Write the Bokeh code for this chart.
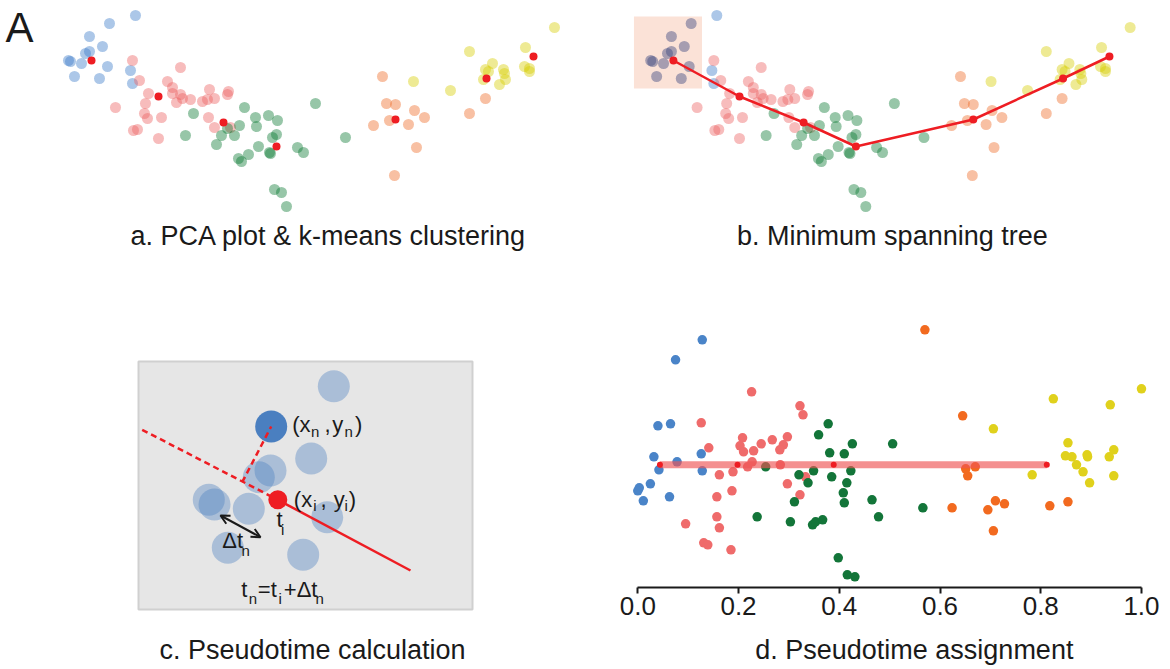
import numpy as np
from bokeh.plotting import figure
from bokeh.models import (Range1d, LinearAxis, FixedTicker,
                          PrintfTickFormatter, Label, Arrow, OpenHead, BoxAnnotation)
from bokeh.layouts import column, row
from bokeh.embed import file_html
from bokeh.resources import INLINE
from bokeh.core.properties import value

FONT = "Liberation Sans"
RED = "#ee1d23"
BASE_FIX = 0.37   # em offset compensation for alphabetic baseline rendering

# ---------------- Panels a & b: PCA coordinates (PC1, PC2) ----------------
blue_pc1 = [-1.65, -1.91, -2.11, -1.98, -2.11, -2.15, -2.32, -2.30, -2.19, -1.93, -1.70, -2.26, -2.01, -1.68]
blue_pc2 = [0.85, 0.77, 0.64, 0.54, 0.49, 0.47, 0.40, 0.39, 0.37, 0.34, 0.30, 0.24, 0.22, 0.17]
pink_pc1 = [-1.68, -1.20, -1.61, -1.33, -1.28, -1.52, -1.28, -1.20, -1.18, -1.24, -1.10, -0.91, -0.98, -0.93,
            -0.86, -0.72, -0.73, -1.55, -1.85, -1.56, -1.53, -1.39, -0.92, -0.86, -1.67, -1.63, -1.42, -0.70]
pink_pc2 = [0.40, 0.33, 0.20, 0.19, 0.13, 0.07, 0.07, 0.06, 0.02, -0.02, 0.01, 0.11, -0.01, 0.01,
            0.02, 0.09, 0.06, -0.03, -0.07, -0.13, -0.18, -0.17, -0.17, -0.27, -0.30, -0.29, -0.38, -0.27]
green_pc1 = [-1.07, -1.15, -0.84, -0.79, -0.56, -0.45, -0.32, -0.23, -0.44, -0.61, -0.73, -0.66, -0.24, -0.28,
             -0.42, -0.31, -0.30, -0.52, -0.62, -0.59, -0.03, 0.03, 0.15, 0.45, -0.26, -0.19, -0.14]
green_pc2 = [-0.13, -0.35, -0.44, -0.35, -0.07, -0.17, -0.15, -0.20, -0.26, -0.25, -0.28, -0.35, -0.34, -0.37,
             -0.46, -0.52, -0.53, -0.54, -0.58, -0.61, -0.47, -0.52, -0.03, -0.37, -0.89, -0.92, -1.06]
orange_pc1 = [0.82, 0.86, 0.95, 0.89, 0.73, 0.94, 1.14, 1.24, 1.08, 1.16, 1.85, 1.69]
orange_pc2 = [0.24, -0.03, -0.04, -0.20, -0.25, -0.75, -0.10, -0.17, -0.24, -0.47, 0.02, -0.13]
yellow_pc1 = [2.54, 2.25, 1.69, 1.92, 1.85, 1.88, 2.03, 2.04, 2.05, 1.99, 1.83, 2.24, 2.29, 2.29, 1.13, 1.50]
yellow_pc2 = [0.73, 0.53, 0.49, 0.37, 0.31, 0.29, 0.31, 0.27, 0.21, 0.16, 0.21, 0.34, 0.32, 0.29, 0.19, 0.10]
centroid_pc1 = [-2.09, -1.42, -0.77, -0.24, 0.95, 1.86, 2.33]
centroid_pc2 = [0.40, 0.04, -0.22, -0.46, -0.19, 0.22, 0.44]
root_box = dict(left=-2.49, right=-1.80, bottom=0.12, top=0.84)   # root cluster highlight

soft_colors = ["#397ac7", "#ed5f5f", "#067730", "#ef6a23", "#d7cc00"]
solid_colors = ["#4a84c8", "#ef6b6b", "#137539", "#f26a1f", "#e0d11c"]
pca_sets = [(blue_pc1, blue_pc2), (pink_pc1, pink_pc2), (green_pc1, green_pc2),
            (orange_pc1, orange_pc2), (yellow_pc1, yellow_pc2)]

# ---------------- Panel d: pseudotime and jitter ----------------
blue_t = [0.128, 0.075, 0.040, 0.065, 0.032, 0.078, 0.042, 0.126, 0.128, 0.025, 0.003, 0.000, 0.011, 0.063]
blue_j = [1.25, 1.05, 0.39, 0.41, 0.08, 0.03, -0.05, 0.11, -0.06, -0.19, -0.23, -0.26, -0.36, -0.32]
pink_t = [0.226, 0.126, 0.141, 0.208, 0.203, 0.210, 0.230, 0.245, 0.267, 0.297, 0.289, 0.282, 0.227, 0.218,
          0.283, 0.162, 0.189, 0.297, 0.187, 0.157, 0.095, 0.157, 0.162, 0.131, 0.139, 0.185, 0.322, 0.328,
          0.322, 0.333]
pink_j = [0.73, 0.42, 0.17, 0.27, 0.19, 0.13, 0.14, 0.21, 0.25, 0.28, 0.20, 0.15, 0.03, -0.02,
          0.00, -0.10, -0.07, -0.19, -0.26, -0.32, -0.59, -0.52, -0.63, -0.78, -0.80, -0.85, 0.59, 0.50,
          -0.30, -0.12]
green_t = [0.254, 0.237, 0.303, 0.311, 0.320, 0.378, 0.359, 0.426, 0.381, 0.410, 0.349, 0.338, 0.385, 0.423,
           0.415, 0.408, 0.410, 0.465, 0.478, 0.347, 0.353, 0.367, 0.398, 0.416, 0.431, 0.506, 0.566]
green_j = [-0.02, -0.52, -0.57, -0.37, -0.10, 0.41, 0.30, 0.21, 0.12, 0.11, -0.06, -0.18, -0.12, -0.06,
           -0.18, -0.28, -0.38, -0.35, -0.52, -0.60, -0.57, -0.55, -0.93, -1.10, -1.12, 0.21, -0.43]
orange_t = [0.570, 0.645, 0.624, 0.651, 0.655, 0.670, 0.710, 0.728, 0.695, 0.706, 0.818, 0.854]
orange_j = [1.35, 0.49, -0.43, -0.04, -0.11, -0.02, -0.36, -0.39, -0.45, -0.66, -0.41, -0.37]
yellow_t = [0.706, 0.825, 0.783, 0.854, 0.849, 0.862, 0.871, 0.892, 0.893, 0.884, 0.897, 0.938, 0.945, 0.936,
            0.945, 1.000]
yellow_j = [0.36, 0.66, -0.10, 0.22, 0.09, 0.08, 0.00, 0.10, 0.08, -0.07, -0.18, 0.60, 0.15, 0.08, -0.11, 0.76]
node_t = [0.044, 0.198, 0.389, 0.812]
pt_sets = [(blue_t, blue_j), (pink_t, pink_j), (green_t, green_j), (orange_t, orange_j), (yellow_t, yellow_j)]
tick_values = [0.0, 0.2, 0.4, 0.6, 0.8, 1.0]

# ---------------- Panel c: schematic ----------------
cell_x = [195.3, 172.7, 132.0, 120.3, 70.3, 76.0, 110.3, 188.7, 89.3, 164.7]
cell_y = [223.3, 151.0, 139.0, 132.3, 109.7, 105.0, 100.7, 92.3, 61.7, 54.7]
cell_n = (132.7, 183.0)           # (x_n, y_n)
cell_i = (139.3, 109.7)           # (x_i, y_i)
proj_pt = (103.7, 127.3)
traj_start = (3.7, 179.7)
traj_end = (272.0, 39.0)
arrow_pts = (82.0, 94.0, 122.0, 72.3)
box_c = (0, 334, 0, 248)

main_txt = ["(x", ",", "y", ")", "(x", ",", "y", ")", "t", "\u0394t", "t", "=t", "+\u0394t"]
main_tx = [153.7, 186.0, 193.7, 216.5, 155.3, 182.0, 195.3, 210.3, 138.0, 83.7, 102.7, 119.3, 145.3]
main_ty = [177.0, 177.0, 177.0, 177.0, 102.3, 102.3, 102.3, 102.3, 82.3, 60.7, 12.3, 12.3, 12.3]
sub_txt = ["n", "n", "i", "i", "i", "n", "n", "i", "n"]
sub_tx = [172.5, 206.0, 174.7, 206.0, 142.5, 103.0, 110.3, 140.0, 177.0]
sub_ty = [172.0, 172.0, 98.0, 98.0, 74.0, 53.0, 5.7, 5.7, 5.7]

titles = ["a. PCA plot & k-means clustering", "b. Minimum spanning tree",
          "c. Pseudotime calculation", "d. Pseudotime assignment"]


def bare(width, height, xr, yr):
    p = figure(width=width, height=height, x_range=Range1d(*xr), y_range=Range1d(*yr),
               output_backend="svg", toolbar_location=None,
               x_axis_location=None, y_axis_location=None, min_border=0)
    p.grid.grid_line_color = None
    p.outline_line_color = None
    p.background_fill_color = "white"
    p.border_fill_color = "white"
    return p


def px_per_unit(p, axis="y"):
    r = p.y_range if axis == "y" else p.x_range
    size = p.height if axis == "y" else p.width
    return size / (r.end - r.start)


def title(p, text, x, y, size=27, align="center"):
    dy = BASE_FIX * size / px_per_unit(p)
    p.add_layout(Label(x=x, y=y + dy, text=text, text_align=align, text_baseline="alphabetic",
                       text_font=FONT, text_font_size=f"{size}px", text_color="#1a1a1a"))


# ---- Panel a ----
fa = bare(586, 270, (-3.00, 2.86), (-1.70, 1.00))
for (px, py), c in zip(pca_sets, soft_colors):
    fa.scatter(px, py, size=11, fill_color=c, fill_alpha=0.42, line_color=None)
fa.scatter(centroid_pc1, centroid_pc2, size=8, fill_color=RED, line_color=None)
title(fa, "A", -2.95, 0.57, size=42, align="left")
title(fa, titles[0], 0.28, -1.45)

# ---- Panel b ----
fb = bare(584, 270, (-2.971, 2.949), (-1.70, 1.00))
fb.add_layout(BoxAnnotation(fill_color="#fbe2d7", fill_alpha=1.0, line_color=None, level="underlay",
                            **root_box))
for (px, py), c in zip(pca_sets, soft_colors):
    ax, ay = np.array(px), np.array(py)
    inside = ((ax >= root_box["left"]) & (ax <= root_box["right"]) &
              (ay >= root_box["bottom"]) & (ay <= root_box["top"]))
    fb.scatter(ax[~inside], ay[~inside], size=11, fill_color=c, fill_alpha=0.42, line_color=None)
    if inside.any():
        fb.scatter(ax[inside], ay[inside], size=11, fill_color="#3d4a80", fill_alpha=0.45, line_color=None)
fb.line(centroid_pc1, centroid_pc2, line_color=RED, line_width=2.5)
fb.scatter(centroid_pc1, centroid_pc2, size=8, fill_color=RED, line_color=None)
title(fb, titles[1], 0.13, -1.45)

# ---- Panel c ----
fc = bare(586, 399, (-138, 448), (-60, 339))
fc.quad(left=[box_c[0]], right=[box_c[1]], bottom=[box_c[2]], top=[box_c[3]],
        fill_color="#e6e6e6", line_color="#d0d0d0", line_width=2)
fc.scatter(cell_x, cell_y, size=32, fill_color="#4a7fc0", fill_alpha=0.38, line_color=None)
fc.scatter([cell_n[0]], [cell_n[1]], size=32, fill_color="#4a7fc0", line_color=None)
fc.line([traj_start[0], cell_i[0]], [traj_start[1], cell_i[1]], line_color=RED, line_width=2.5,
        line_dash="6 4")
fc.line([proj_pt[0], cell_n[0]], [proj_pt[1], cell_n[1]], line_color=RED, line_width=2.5,
        line_dash="6 4")
fc.line([cell_i[0], traj_end[0]], [cell_i[1], traj_end[1]], line_color=RED, line_width=2.5)
fc.scatter([cell_i[0]], [cell_i[1]], size=19, fill_color=RED, line_color=None)
fc.add_layout(Arrow(start=OpenHead(size=9, line_width=2, line_color="#1a1a1a"),
                    end=OpenHead(size=9, line_width=2, line_color="#1a1a1a"),
                    x_start=arrow_pts[0], y_start=arrow_pts[1], x_end=arrow_pts[2], y_end=arrow_pts[3],
                    line_width=2, line_color="#1a1a1a"))
main_dy = BASE_FIX * 22 / px_per_unit(fc)
sub_dy = BASE_FIX * 15 / px_per_unit(fc)
fc.text(x=main_tx, y=[v + main_dy for v in main_ty], text=main_txt, text_font=value(FONT),
        text_font_size="22px", text_baseline="alphabetic", text_align="left", text_color="#1a1a1a")
fc.text(x=sub_tx, y=[v + sub_dy for v in sub_ty], text=sub_txt, text_font=value(FONT),
        text_font_size="15px", text_baseline="alphabetic", text_align="left", text_color="#1a1a1a")
title(fc, titles[2], 174, -50)

# ---- Panel d ----
T_RANGE = (-0.1018, 1.0576)
fd = figure(width=584, height=360, x_range=Range1d(*T_RANGE), y_range=Range1d(-1.227, 1.943),
            output_backend="svg", toolbar_location=None, x_axis_location=None, y_axis_location=None,
            min_border_left=0, min_border_right=0, min_border_top=0, min_border_bottom=43)
fd.grid.grid_line_color = None
fd.outline_line_color = None
fd.background_fill_color = "white"
fd.border_fill_color = "white"
for (tt, jj), c in zip(pt_sets, solid_colors):
    fd.scatter(tt, jj, size=9.5, fill_color=c, line_color=None)
fd.line([node_t[0], node_t[-1]], [0, 0], line_color="#ee5555", line_alpha=0.65, line_width=7)
fd.scatter(node_t, [0] * len(node_t), size=6, fill_color=RED, line_color=None)
axis = LinearAxis(ticker=FixedTicker(ticks=tick_values), formatter=PrintfTickFormatter(format="%.1f"),
                  bounds=(0, 1))
axis.axis_line_width = 2
axis.axis_line_color = "#1a1a1a"
axis.major_tick_line_width = 2
axis.major_tick_line_color = "#1a1a1a"
axis.major_tick_out = 6
axis.major_tick_in = 0
axis.minor_tick_line_color = None
axis.major_label_standoff = 3
axis.major_label_text_font = FONT
axis.major_label_text_font_size = "26px"
axis.major_label_text_color = "#1a1a1a"
fd.add_layout(axis, "below")

fdt = bare(584, 39, T_RANGE, (0, 39))
title(fdt, titles[3], 0.549, 10)

layout = row(column(fa, fc), column(fb, fd, fdt))
open("out.html", "w").write(file_html(layout, INLINE))
